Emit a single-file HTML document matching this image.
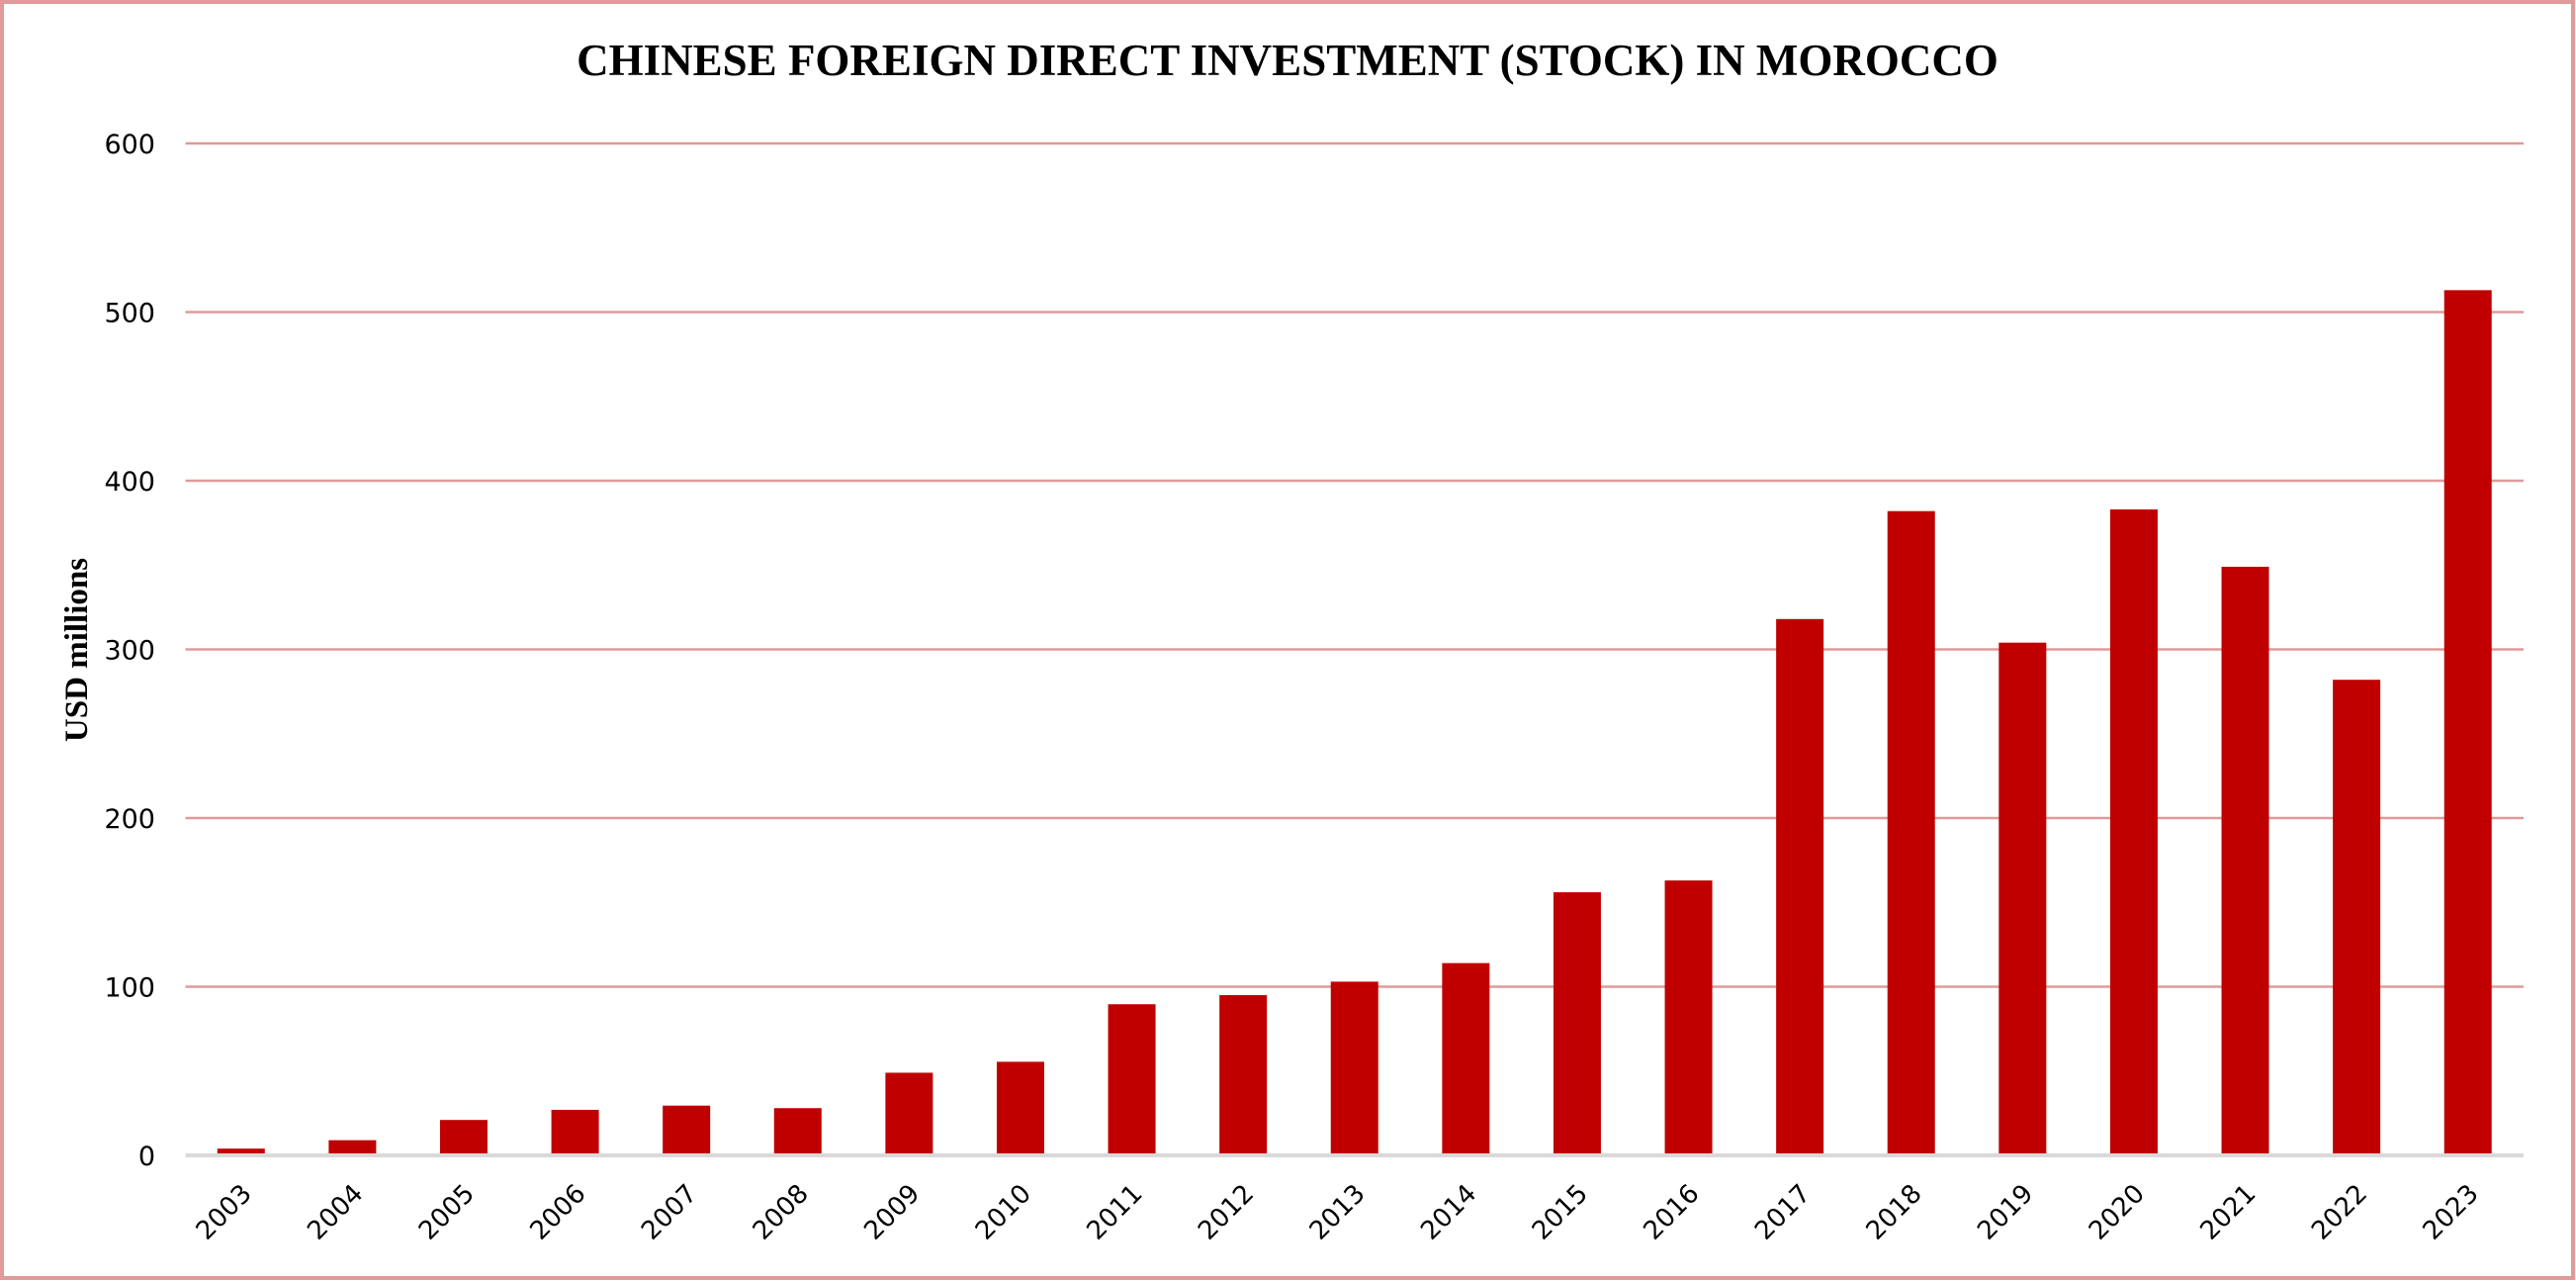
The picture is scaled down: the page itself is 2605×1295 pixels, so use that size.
<!DOCTYPE html>
<html><head><meta charset="utf-8"><style>
html,body{margin:0;padding:0;background:#fff}
svg{display:block}
</style></head><body>
<svg id="chart" width="2605" height="1295" xmlns="http://www.w3.org/2000/svg">
<rect x="2" y="2" width="2600" height="1290" fill="#fff" stroke="#e09a9a" stroke-width="4"/>
<text x="1302" y="76" text-anchor="middle" font-family="Liberation Serif, serif" font-weight="bold" font-size="45">CHINESE FOREIGN DIRECT INVESTMENT (STOCK) IN MOROCCO</text>
<text transform="translate(88,657) rotate(-90)" text-anchor="middle" font-family="Liberation Serif, serif" font-weight="bold" font-size="33">USD millions</text>
<g id="grid"></g><g id="bars"></g><g id="xlabels"></g>
</svg>
<script>
const categories=["2003","2004","2005","2006","2007","2008","2009","2010","2011","2012","2013","2014","2015","2016","2017","2018","2019","2020","2021","2022","2023"];
const values=[4,9,21,27,29.5,28,49,55.5,89.6,95,103,114,156,163,318,382,304,383,349,282,513];
const yTicks=[0,100,200,300,400,500,600];
const NS="http://www.w3.org/2000/svg";
const x0=187.5,x1=2552,yZero=1168,yTop=145,yMax=600;
const band=(x1-x0)/categories.length,barW=48;
function y(v){return yZero-(v/yMax)*(yZero-yTop);}
function xc(i){return x0+band*(i+0.5);}
const grid=document.getElementById('grid'),bars=document.getElementById('bars'),xl=document.getElementById('xlabels');
yTicks.forEach(t=>{
  const l=document.createElementNS(NS,'line');
  
  
  l.setAttribute('x1',x0);l.setAttribute('x2',x1);l.setAttribute('y1',y(t));l.setAttribute('y2',y(t));
  l.setAttribute('stroke',t===0?'#d9d9d9':'#e09a9a');l.setAttribute('stroke-width',t===0?4:2.5);
  grid.appendChild(l);
  const tx=document.createElementNS(NS,'text');
  
  
  tx.setAttribute('x',157);tx.setAttribute('y',y(t)+10);tx.setAttribute('text-anchor','end');
  tx.setAttribute('font-family','DejaVu Sans, Liberation Sans, sans-serif');tx.setAttribute('font-size','27');
  tx.textContent=t;grid.appendChild(tx);
});
categories.forEach((c,i)=>{
  const r=document.createElementNS(NS,'rect');
  
  
  r.setAttribute('x',xc(i)-barW/2);r.setAttribute('width',barW);
  r.setAttribute('y',y(values[i]));r.setAttribute('height',yZero-2-y(values[i]));
  r.setAttribute('fill','#c00000');
  bars.appendChild(r);
  const t=document.createElementNS(NS,'text');
  
  
  const lx=xc(i)+12,ly=1208;
  t.setAttribute('transform','translate('+lx+','+ly+') rotate(-45)');
  t.setAttribute('text-anchor','end');
  t.setAttribute('font-family','DejaVu Sans, Liberation Sans, sans-serif');t.setAttribute('font-size','26');
  t.textContent=c;xl.appendChild(t);
});
</script>
</body></html>
